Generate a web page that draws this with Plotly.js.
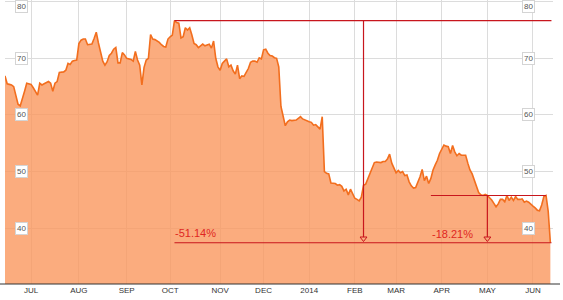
<!DOCTYPE html>
<html>
<head>
<meta charset="utf-8">
<script src="https://cdn.plot.ly/plotly-3.0.1.min.js"></script>
<style>
html,body{margin:0;padding:0;background:#fff;}
#chart{width:563px;height:300px;}
</style>
</head>
<body>
<div id="chart"></div>
<script>
// ---- data ----
var dates = [
"2013-06-13","2013-06-14","2013-06-17","2013-06-18","2013-06-19","2013-06-20","2013-06-21","2013-06-24","2013-06-25","2013-06-26","2013-06-27","2013-06-28",
"2013-07-01","2013-07-02","2013-07-03","2013-07-05","2013-07-08","2013-07-09","2013-07-10","2013-07-11","2013-07-12","2013-07-15","2013-07-16","2013-07-17","2013-07-18","2013-07-19","2013-07-22","2013-07-23","2013-07-24","2013-07-25","2013-07-26","2013-07-29","2013-07-30","2013-07-31",
"2013-08-01","2013-08-02","2013-08-05","2013-08-06","2013-08-07","2013-08-08","2013-08-09","2013-08-12","2013-08-13","2013-08-14","2013-08-15","2013-08-16","2013-08-19","2013-08-20","2013-08-21","2013-08-22","2013-08-23","2013-08-26","2013-08-27","2013-08-28","2013-08-29","2013-08-30",
"2013-09-03","2013-09-04","2013-09-05","2013-09-06","2013-09-09","2013-09-10","2013-09-11","2013-09-12","2013-09-13","2013-09-16","2013-09-17","2013-09-18","2013-09-19","2013-09-20","2013-09-23","2013-09-24","2013-09-25","2013-09-26","2013-09-27","2013-09-30",
"2013-10-01","2013-10-02","2013-10-03","2013-10-04","2013-10-07","2013-10-08","2013-10-09","2013-10-10","2013-10-11","2013-10-14","2013-10-15","2013-10-16","2013-10-17","2013-10-18","2013-10-21","2013-10-22","2013-10-23","2013-10-24","2013-10-25","2013-10-28","2013-10-29","2013-10-30","2013-10-31",
"2013-11-01","2013-11-04","2013-11-05","2013-11-06","2013-11-07","2013-11-08","2013-11-11","2013-11-12","2013-11-13","2013-11-14","2013-11-15","2013-11-18","2013-11-19","2013-11-20","2013-11-21","2013-11-22","2013-11-25","2013-11-26","2013-11-27","2013-11-29",
"2013-12-02","2013-12-03","2013-12-04","2013-12-05","2013-12-06","2013-12-09","2013-12-10","2013-12-11","2013-12-12","2013-12-13","2013-12-16","2013-12-17","2013-12-18","2013-12-19","2013-12-20","2013-12-23","2013-12-24","2013-12-26","2013-12-27","2013-12-30","2013-12-31",
"2014-01-02","2014-01-03","2014-01-06","2014-01-07","2014-01-08","2014-01-09","2014-01-10","2014-01-13","2014-01-14","2014-01-15","2014-01-16","2014-01-17","2014-01-21","2014-01-22","2014-01-23","2014-01-24","2014-01-27","2014-01-28","2014-01-29","2014-01-30","2014-01-31",
"2014-02-03","2014-02-04","2014-02-05","2014-02-06","2014-02-07","2014-02-10","2014-02-11","2014-02-12","2014-02-13","2014-02-14","2014-02-18","2014-02-19","2014-02-20","2014-02-21","2014-02-24","2014-02-25","2014-02-26","2014-02-27","2014-02-28",
"2014-03-03","2014-03-04","2014-03-05","2014-03-06","2014-03-07","2014-03-10","2014-03-11","2014-03-12","2014-03-13","2014-03-14","2014-03-17","2014-03-18","2014-03-19","2014-03-20","2014-03-21","2014-03-24","2014-03-25","2014-03-26","2014-03-27","2014-03-28","2014-03-31",
"2014-04-01","2014-04-02","2014-04-03","2014-04-04","2014-04-07","2014-04-08","2014-04-09","2014-04-10","2014-04-11","2014-04-14","2014-04-15","2014-04-16","2014-04-17","2014-04-21","2014-04-22","2014-04-23","2014-04-24","2014-04-25","2014-04-28","2014-04-29","2014-04-30",
"2014-05-01","2014-05-02","2014-05-05","2014-05-06","2014-05-07","2014-05-08","2014-05-09","2014-05-12","2014-05-13","2014-05-14","2014-05-15","2014-05-16","2014-05-19","2014-05-20","2014-05-21","2014-05-22","2014-05-23","2014-05-27","2014-05-28","2014-05-29","2014-05-30",
"2014-06-02","2014-06-03","2014-06-04","2014-06-05","2014-06-06","2014-06-09","2014-06-10","2014-06-11","2014-06-12"
];
var prices = [
66.9,65.5,65.4,65.3,65.0,63.6,61.9,61.6,62.7,64.2,65.6,65.5,
65.4,64.8,64.2,63.5,65.6,65.3,65.5,65.7,65.9,65.6,64.2,65.6,65.9,67.5,67.6,67.6,67.9,69.1,68.9,69.5,69.6,69.7,
72.6,73.2,73.4,73.4,72.4,72.5,72.5,73.5,74.6,72.7,70.9,69.5,68.8,69.4,70.5,70.9,71.6,71.9,69.2,69.2,71.0,70.6,
70.0,69.9,69.8,69.5,71.2,69.7,68.8,65.3,68.4,69.7,70.0,74.2,73.4,73.3,73.1,72.8,72.4,72.1,72.0,73.4,
73.8,74.1,76.65,76.3,76.2,73.6,73.8,75.4,75.0,75.4,74.1,72.6,72.4,71.9,72.2,72.5,72.2,72.4,72.5,71.8,73.05,70.0,68.5,
67.9,69.1,69.5,69.9,68.5,68.8,67.8,67.2,68.8,66.4,66.9,66.8,67.5,68.2,69.3,69.5,69.5,69.3,70.1,69.9,
71.5,71.6,70.9,70.5,70.4,70.1,70.0,68.5,61.5,59.5,58.1,58.8,59.1,59.0,59.0,59.1,59.4,59.7,59.3,59.1,59.0,
58.8,58.7,58.2,58.3,57.8,57.5,59.7,50.0,49.7,49.6,48.0,48.0,47.9,47.6,47.7,47.4,46.6,46.9,45.9,46.9,46.2,
45.3,45.1,44.85,45.5,47.6,47.8,48.8,49.5,50.8,51.6,51.7,51.7,51.6,51.8,51.8,52.2,53.1,51.5,50.5,
49.8,50.2,49.8,50.0,49.3,49.4,48.2,47.5,47.1,47.2,48.1,49.1,50.4,48.4,49.2,47.9,48.8,50.3,51.2,52.0,53.2,
54.0,54.7,54.5,54.4,53.2,54.6,53.5,52.8,53.2,52.9,52.9,52.9,51.5,50.3,49.6,48.5,47.3,46.3,45.9,45.8,46.0,
45.8,45.4,45.0,44.4,43.8,44.3,45.1,45.1,44.7,45.8,44.9,45.5,44.9,45.6,45.1,45.1,45.2,44.6,44.8,44.6,44.2,
43.9,43.6,43.2,43.1,44.1,45.6,45.79,43.0,37.45
];
var holidays = ["2013-07-04","2013-09-02","2013-11-28","2013-12-25","2014-01-01","2014-01-20","2014-02-17","2014-04-18","2014-05-26"];
var tickDates = ["2013-07-01","2013-08-01","2013-09-03","2013-10-01","2013-11-01","2013-12-02","2014-01-02","2014-02-03","2014-03-03","2014-04-01","2014-05-01","2014-06-02"];
var tickLabels = ["JUL","AUG","SEP","OCT","NOV","DEC","2014","FEB","MAR","APR","MAY","JUN"];
var yTicks = [40,50,60,70,80];

// drawdown markers
var peakDate = "2013-10-03", peakValue = 76.65;
var midDate = "2014-03-25", midValue = 45.79, midEndDate = "2014-06-10";
var arrowDates = ["2014-02-07","2014-05-01"];

// ---- chart ----
var lastValue = prices[prices.length-1];
function pct(a,b){ return ((b/a-1)*100).toFixed(2) + "%"; }

var red = "#c8161d";
var txtRed = "#e0261f";
var lineEnd = "2014-06-12 12:00";
var arrowTop = 38.45, arrowY = 38.2;
var yTop = 80.29;

var area = {
  x: dates, y: prices, type: "scatter", mode: "lines",
  fill: "tozeroy", fillcolor: "rgba(250,151,94,0.8)",
  line: {color: "#f26e1e", width: 1.6}, hoverinfo: "skip"
};
var arrows = {
  x: arrowDates, y: [arrowY, arrowY], type: "scatter", mode: "markers",
  marker: {symbol: "triangle-down-open", size: 6, color: red, line: {width: 1, color: red}},
  hoverinfo: "skip", cliponaxis: false
};

var shapes = [
  {type:"line", xref:"x", yref:"y", x0:peakDate, x1:lineEnd, y0:peakValue, y1:peakValue, line:{color:red, width:1.2}},
  {type:"line", xref:"x", yref:"y", x0:peakDate, x1:lineEnd, y0:lastValue, y1:lastValue, line:{color:red, width:1.2}},
  {type:"line", xref:"x", yref:"y", x0:midDate, x1:midEndDate, y0:midValue, y1:midValue, line:{color:red, width:1.2}},
  {type:"line", xref:"x", yref:"y", x0:arrowDates[0], x1:arrowDates[0], y0:peakValue, y1:arrowTop, line:{color:red, width:1.2}},
  {type:"line", xref:"x", yref:"y", x0:arrowDates[1], x1:arrowDates[1], y0:midValue, y1:arrowTop, line:{color:red, width:1.2}},
  {type:"line", xref:"paper", yref:"paper", x0:-0.0092, x1:1.0128, y0:0, y1:0, line:{color:"#333", width:1}}
];

var annotations = [
  {x:peakDate, y:39.2, xref:"x", yref:"y", text:pct(peakValue,lastValue), showarrow:false, xanchor:"left", yanchor:"middle",
   font:{family:"Arial, Liberation Sans, sans-serif", size:11, color:txtRed}, xshift:-1},
  {x:midDate, y:39.0, xref:"x", yref:"y", text:pct(midValue,lastValue), showarrow:false, xanchor:"left", yanchor:"middle",
   font:{family:"Arial, Liberation Sans, sans-serif", size:11, color:txtRed}, xshift:-1}
];
yTicks.forEach(function(v){
  var atTop = v + 1 > yTop;
  [0.0292, 0.9562].forEach(function(px){
    annotations.push({x:px, y: atTop ? yTop : v, xref:"paper", yref:"y", text:String(v), showarrow:false,
      xanchor:"center", yanchor: atTop ? "top" : "middle",
      bgcolor:"#fff", bordercolor:"#d4d4d4", borderwidth:1, borderpad:1,
      font:{family:"Arial, Liberation Sans, sans-serif", size:8, color:"#555"}});
  });
});

var layout = {
  width: 563, height: 300,
  margin: {l:5, r:10, t:0, b:16, pad:0},
  paper_bgcolor: "#fff", plot_bgcolor: "#fff",
  showlegend: false,
  xaxis: {
    type: "date",
    range: ["2013-06-13", "2014-06-13 05:00"],
    rangebreaks: [{bounds:["sat","mon"]}, {values: holidays}],
    tickmode: "array", tickvals: tickDates, ticktext: tickLabels,
    showgrid: true, gridcolor: "#dcdcdc", gridwidth: 1,
    ticks: "", showline: false, zeroline: false,
    tickfont: {family:"Arial, Liberation Sans, sans-serif", size:8, color:"#333"}
  },
  yaxis: {
    range: [30.17, yTop],
    tickmode: "array", tickvals: yTicks, showticklabels: false,
    showgrid: true, gridcolor: "#dcdcdc", gridwidth: 1,
    zeroline: false, showline: false, ticks: ""
  },
  shapes: shapes,
  annotations: annotations
};

Plotly.newPlot("chart", [area, arrows], layout, {staticPlot: true, displayModeBar: false});
</script>
</body>
</html>
